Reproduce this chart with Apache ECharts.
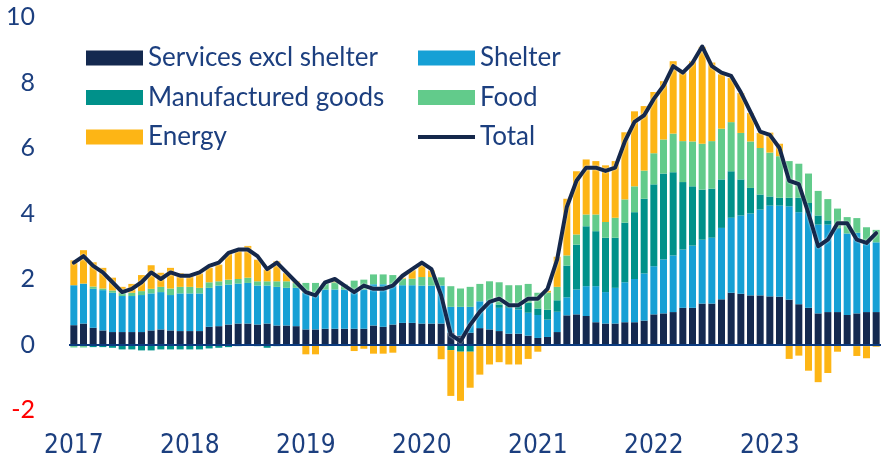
<!DOCTYPE html>
<html><head><meta charset="utf-8">
<script src="https://cdn.jsdelivr.net/npm/echarts@6/dist/echarts.min.js"></script>
<style>html,body{margin:0;padding:0;background:#fff}#c{width:881px;height:464px}</style>
</head><body><div id="c"></div>
<script>
const years = ['2017','2018','2019','2020','2021','2022','2023'];
const yTicks = [-2, 0, 2, 4, 6, 8, 10];
const services = [
0.59,0.64,0.51,0.43,0.38,0.38,0.38,0.38,0.43,0.46,0.43,0.41,
0.41,0.41,0.54,0.56,0.61,0.64,0.64,0.61,0.64,0.58,0.58,0.56,
0.46,0.46,0.48,0.48,0.48,0.48,0.48,0.58,0.54,0.61,0.66,0.66,
0.64,0.64,0.64,0.36,0.27,0.36,0.50,0.46,0.41,0.33,0.33,0.27,
0.20,0.23,0.38,0.89,0.92,0.87,0.68,0.64,0.64,0.68,0.68,0.73,
0.92,0.95,0.99,1.12,1.12,1.25,1.25,1.38,1.58,1.55,1.50,1.50,
1.47,1.46,1.37,1.23,1.12,0.95,0.99,0.99,0.90,0.95,0.99,0.99];
const shelter = [
1.22,1.22,1.19,1.23,1.20,1.10,1.10,1.13,1.13,1.14,1.08,1.15,
1.15,1.15,1.19,1.24,1.22,1.22,1.24,1.19,1.16,1.18,1.15,1.17,
1.12,1.12,1.20,1.20,1.20,1.17,1.20,1.26,1.30,1.24,1.15,1.15,
1.16,1.16,1.16,0.79,0.88,0.79,0.82,0.86,0.71,0.79,0.74,0.70,
0.70,0.53,0.62,0.55,0.76,0.91,1.10,0.96,1.09,1.22,1.32,1.44,
1.47,1.65,1.73,1.78,1.90,1.95,2.01,2.18,2.29,2.39,2.50,2.62,
2.77,2.78,2.85,2.81,2.90,2.71,2.67,2.55,2.49,2.46,2.17,2.13];
const manufactured = [
-0.05,-0.05,-0.08,-0.08,-0.10,-0.15,-0.15,-0.18,-0.18,-0.15,-0.15,-0.15,
-0.15,-0.15,-0.12,-0.10,-0.08,-0.05,-0.03,-0.05,-0.10,-0.05,-0.03,-0.02,
0,0,0,0,0,0,0,0,0,0,0,0,
-0.02,-0.02,-0.05,-0.17,-0.22,-0.22,-0.05,0.03,0.10,0.10,0.15,0.30,
0.20,0.30,0.35,0.97,1.37,1.83,1.68,1.66,1.53,1.82,2.04,2.28,
2.50,2.62,2.54,2.06,1.81,1.53,1.50,1.48,1.42,1.10,0.78,0.46,
0.28,0.24,0.26,0.44,0.30,0.28,0.13,0.03,0,-0.05,-0.05,-0.05];
const food = [
-0.04,-0.04,0.07,0.05,0.07,0.10,0.10,0.12,0.14,0.16,0.20,0.20,
0.20,0.17,0.17,0.13,0.15,0.14,0.16,0.13,0.13,0.17,0.20,0.15,
0.30,0.30,0.20,0.22,0.15,0.30,0.30,0.30,0.30,0.27,0.20,0.20,
0.26,0.26,0.25,0.63,0.56,0.61,0.53,0.58,0.68,0.59,0.59,0.58,
0.48,0.53,0.41,0.31,0.31,0.36,0.51,0.48,0.61,0.71,0.79,0.86,
0.95,1.04,1.18,1.25,1.37,1.40,1.45,1.55,1.50,1.42,1.42,1.42,
1.34,1.27,1.12,1.04,0.90,0.75,0.65,0.58,0.50,0.45,0.42,0.38];
const energy = [
0.76,1.02,0.74,0.63,0.39,0.18,0.27,0.49,0.72,0.43,0.63,0.42,
0.33,0.44,0.44,0.51,0.81,0.88,0.97,0.66,0.36,0.61,0.25,0.05,
-0.30,-0.30,-0.05,0.05,-0.05,-0.20,-0.13,-0.28,-0.28,-0.25,0.03,0.26,
0.36,0.20,-0.40,-1.40,-1.50,-1.10,-0.87,-0.61,-0.54,-0.61,-0.61,-0.44,
-0.22,0.05,0.92,1.73,1.93,1.68,1.63,1.73,1.73,2.05,2.29,1.97,
1.87,1.78,2.21,2.10,2.45,2.96,2.40,1.66,1.35,1.22,0.87,0.46,
0.61,0.38,-0.44,-0.34,-0.80,-1.15,-0.87,-0.22,0,-0.30,-0.37,-0.02];
const total = [
2.5,2.7,2.4,2.2,1.9,1.6,1.7,1.9,2.2,2.0,2.2,2.1,
2.1,2.2,2.4,2.5,2.8,2.9,2.9,2.7,2.3,2.5,2.2,1.9,
1.6,1.5,1.9,2.0,1.8,1.6,1.8,1.7,1.7,1.8,2.1,2.3,
2.5,2.3,1.5,0.3,0.1,0.6,1.0,1.3,1.4,1.2,1.2,1.4,
1.4,1.7,2.6,4.2,5.0,5.4,5.4,5.3,5.4,6.2,6.8,7.0,
7.5,7.9,8.5,8.3,8.6,9.1,8.5,8.3,8.2,7.7,7.1,6.5,
6.4,6.0,5.0,4.9,4.0,3.0,3.2,3.7,3.7,3.2,3.1,3.4];

const months = ['01','02','03','04','05','06','07','08','09','10','11','12'];
const categories = [];
years.forEach(y => months.forEach(m => categories.push(y + '-' + m)));

const TXT = '#1c3f7f';
const C = {services:'#14294f', shelter:'#16a0d5', manuf:'#00918a', food:'#62cb8b', energy:'#fdb515', total:'#15284b'};
const legendText = {fontFamily:'Lato', fontSize:26, color:TXT, lineHeight:24};

function bar(name, data, color){
  return {name, type:'bar', stack:'a', stackStrategy:'samesign', data, barWidth:7,
    itemStyle:{color}, emphasis:{disabled:true}};
}

const chart = echarts.init(document.getElementById('c'), null, {renderer:'canvas'});
chart.setOption({
  animation:false,
  backgroundColor:'#fff',
  grid:{left:69, right:0, top:17, bottom:54, containLabel:false},
  legend:[
    {orient:'vertical', left:81, top:40, itemWidth:57, itemHeight:15, itemGap:13.5,
     textStyle:legendText, selectedMode:false,
     data:[{name:'Services excl shelter',icon:'rect'},{name:'Manufactured goods',icon:'rect'},{name:'Energy',icon:'rect'}]},
    {orient:'vertical', left:413, top:40, itemWidth:57, itemHeight:15, itemGap:13.5,
     textStyle:legendText, selectedMode:false,
     data:[{name:'Shelter',icon:'rect'},{name:'Food',icon:'rect'},
           {name:'Total', icon:'path://M0,0H57V4H0Z', itemStyle:{color:C.total}}]}
  ],
  xAxis:{type:'category', data:categories, boundaryGap:true,
    axisLine:{show:false}, axisTick:{show:false}, splitLine:{show:false},
    axisLabel:{interval:0, margin:23, fontFamily:'DejaVu Sans Condensed', fontSize:26, color:TXT,
      formatter:(v, i) => (i % 12 === 0 ? v.slice(0,4) : '')}},
  yAxis:{type:'value', min:yTicks[0], max:yTicks[yTicks.length-1], interval:2,
    axisLine:{show:false}, axisTick:{show:false}, splitLine:{show:false},
    axisLabel:{margin:34, fontFamily:'Lato', fontSize:25, color:(v) => (Number(v) < 0 ? '#ff0000' : TXT)}},
  series:[
    bar('Services excl shelter', services, C.services),
    bar('Shelter', shelter, C.shelter),
    bar('Manufactured goods', manufactured, C.manuf),
    bar('Food', food, C.food),
    bar('Energy', energy, C.energy),
    {name:'Total', type:'line', data:total, symbol:'none', z:5,
     lineStyle:{color:C.total, width:4, cap:'round', join:'round', shadowColor:'rgba(255,255,255,0.9)', shadowBlur:2},
     itemStyle:{color:C.total},
     markLine:{silent:true, symbol:'none', label:{show:false},
       lineStyle:{color:'#0b3b80', width:2, type:'solid'}, data:[{yAxis:0}]}}
  ]
});
</script></body></html>
